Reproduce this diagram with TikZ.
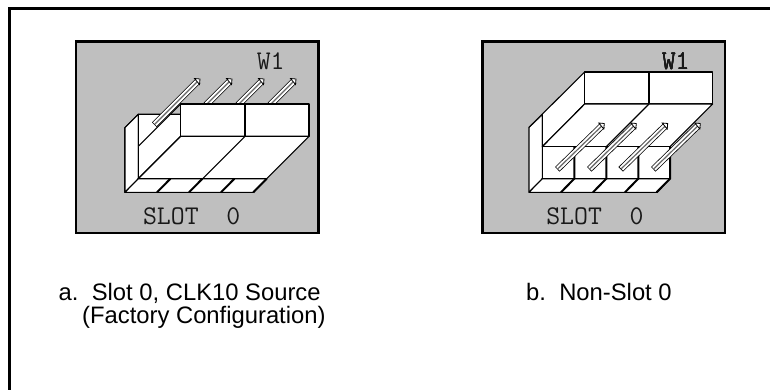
\documentclass[tikz,border=0pt]{standalone}
\usepackage{fontspec}
\setmainfont{Liberation Sans}
\newcommand{\jumperpin}[2]{
	\draw[line width=6.5pt,black] #1 -- #2;
	\draw[line width=5pt,white,shorten <=0.8pt] #1 -- #2;
	\draw[line width=1.2pt,black!60,shorten <=0.8pt] #1 -- #2;
	\path #2 coordinate (pintip);
	\draw[fill=white,line width=0.8pt] ([shift={(-3.5,-2.5)}]pintip)-- ([shift={(2,-2)}]pintip)-- ([shift={(1.5,3.5)}]pintip)-- cycle;
}
\begin{document}
\begin{tikzpicture}[x=1pt,y=-1pt]
		\tikzstyle{panel}=[draw=black,fill=black!25,line width=2.5pt]
		\tikzstyle{block}=[draw=black,fill=white,line width=1.1pt,line join=round]
		\tikzstyle{edge}=[draw=black,line width=2pt]
		\tikzstyle{wirelabel}=[font=\fontsize{27}{27}\selectfont\ttfamily,text=black!90]
		\tikzstyle{caption}=[font=\fontsize{23.8}{24}\selectfont,anchor=base west,inner sep=0pt]
		
		\useasboundingbox (0,0) rectangle (770,390);
		\draw[line width=3pt] (9.5,390)-- (9.5,8.5)-- (770,8.5);
		
		% a. jumper on slot 0
		\draw[panel] (76,41.5) rectangle (318.5,233);
		\foreach \px in {206,238,270}
			\jumperpin{(\px,105)}{(\px+24,81)}
		\draw[block] (125,127.7)-- (138.3,114.3)-- (138.3,178.7)-- (125,192.3)-- cycle;
		\draw[block] (138.3,114.3)-- (180.7,114.3)-- (180.7,136.3)-- (138.3,178.7)-- cycle;
		\draw[block] (138.3,146.3)-- (180.7,104);
		\draw[block] (180.7,104) rectangle (309,136.3);
		\draw[block] (245,104)-- (245,136.3);
		\draw[block] (180.7,136.3)-- (309,136.3)-- (266.7,178.7)-- (138.3,178.7)-- cycle;
		\draw[block] (245,136.3)-- (202.7,178.7);
		\draw[block] (138.3,178.7)-- (266.7,178.7)-- (253.3,192.3)-- (125,192.3)-- cycle;
		\foreach \px in {157,189,221,253.3}
			\draw[edge] (\px,192.3)-- (\px+13.4,178.7);
		\jumperpin{(154.3,124.7)}{(198,81)}
		\node[wirelabel] (wa) at (270.7,61.7) {W1};
		\node[wirelabel] (slota) at (191.7,216) {SLOT\ \ 0};
		
		% b. jumper off slot 0
		\draw[panel] (482.5,41.5) rectangle (725,233);
		\draw[block] (529,127.3)-- (542.3,114.7)-- (542.3,178.7)-- (529,192.3)-- cycle;
		\draw[block] (529,127.3)-- (584.7,72)-- (584.7,104)-- (542.3,146.7)-- (542.3,114.7);
		\draw[block] (584.7,72) rectangle (712.7,104);
		\draw[block] (649,72)-- (649,104);
		\draw[block] (584.7,104)-- (712.7,104)-- (670,146.7)-- (542.3,146.7)-- cycle;
		\draw[block] (649,104)-- (606.3,146.7);
		\draw[block] (542.3,146.7) rectangle (670,178.7);
		\draw[block] (542.3,178.7)-- (670,178.7)-- (657,192.3)-- (529,192.3)-- cycle;
		\foreach \px in {574.3,606.3,638.3,670}
			\draw[edge] (\px,146.7)-- (\px,178.7)-- (\px-13.4,192.3);
		\foreach \px in {557.3,589.3,620.7,653.3}
			\jumperpin{(\px,169.3)}{(\px+45,125.5)}
		\node[wirelabel] (wb) at (675.7,61.7) {W1};
		\node[wirelabel] (slotb) at (595,216) {SLOT\ \ 0};
		
		\node[caption] (capa) at (58.5,300) {a.\ \ Slot 0, CLK10 Source};
		\node[caption] (capb) at (82,323) {(Factory Configuration)};
		\node[caption] (capc) at (526,300) {b.\ \ Non-Slot 0};
		
		\end{tikzpicture}
\end{document}
